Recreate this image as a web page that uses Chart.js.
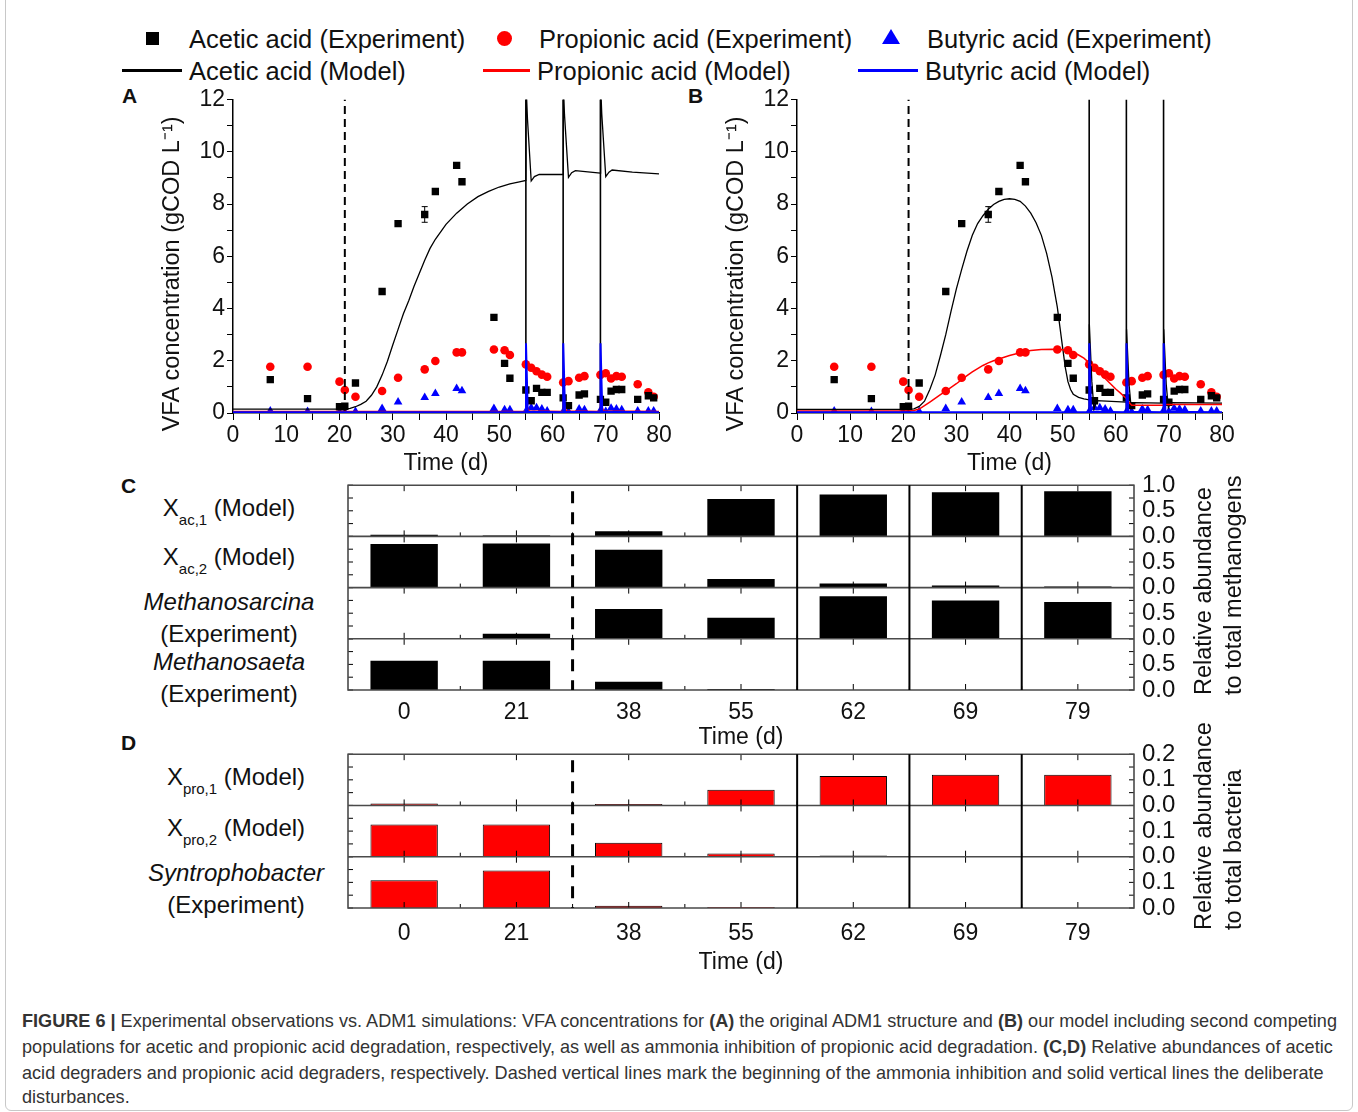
<!DOCTYPE html>
<html>
<head>
<meta charset="utf-8">
<script src="https://cdn.jsdelivr.net/npm/chart.js@4.4.1/dist/chart.umd.min.js"></script>
<style>
body { margin: 0; background: #fff; font-family: 'Liberation Sans', Arial, sans-serif; color: #111; }
#fig { position: relative; width: 1358px; height: 1112px; overflow: hidden; }
#frame { position: absolute; left: 5px; top: -8px; width: 1346px; height: 1117px; border: 1px solid #c8c8c8; border-radius: 6px; }
.abs { position: absolute; white-space: nowrap; }
canvas { position: absolute; }
.legt { font-size: 25.5px; line-height: 30px; }
.letter { font-size: 21px; font-weight: bold; line-height: 24px; }
.rowlab { font-size: 24px; line-height: 28px; width: 200px; text-align: center; }
.sub { font-size: 15px; position: relative; top: 9px; }
.rtitle { font-size: 23.5px; line-height: 30px; transform-origin: 0 0; transform: rotate(-90deg); }
.cap { font-family: 'Liberation Sans Narrow', 'Liberation Sans', Arial, sans-serif; font-size: 18.5px; line-height: 26px; color: #333; transform-origin: 0 50%; }
</style>
</head>
<body>
<div id="fig">
  <div id="frame"></div>

  <!-- legend -->
  <div class="abs" style="left:146px;top:32px;width:13px;height:13px;background:#000"></div>
  <div class="abs legt" style="left:189px;top:24px">Acetic acid (Experiment)</div>
  <div class="abs" style="left:497px;top:31px;width:15px;height:15px;border-radius:50%;background:#ff0000"></div>
  <div class="abs legt" style="left:539px;top:24px">Propionic acid (Experiment)</div>
  <div class="abs" style="left:882px;top:29px;width:18px;height:15px;background:#0000ff;clip-path:polygon(50% 0,100% 100%,0 100%)"></div>
  <div class="abs legt" style="left:927px;top:24px">Butyric acid (Experiment)</div>

  <div class="abs" style="left:122px;top:69px;width:60px;height:3px;background:#000"></div>
  <div class="abs legt" style="left:189px;top:56px">Acetic acid (Model)</div>
  <div class="abs" style="left:483px;top:69px;width:47px;height:3px;background:#ff0000"></div>
  <div class="abs legt" style="left:537px;top:56px">Propionic acid (Model)</div>
  <div class="abs" style="left:858px;top:69px;width:60px;height:3px;background:#0000ff"></div>
  <div class="abs legt" style="left:925px;top:56px">Butyric acid (Model)</div>

  <!-- panel letters -->
  <div class="abs letter" style="left:122px;top:84px">A</div>
  <div class="abs letter" style="left:688px;top:84px">B</div>
  <div class="abs letter" style="left:121px;top:474px">C</div>
  <div class="abs letter" style="left:121px;top:731px">D</div>

  <canvas id="chartA" width="540" height="401" style="left:140px;top:86px"></canvas>
  <canvas id="chartB" width="539" height="401" style="left:704px;top:86px"></canvas>
  <canvas id="chartC" width="850" height="291" style="left:340px;top:464px"></canvas>
  <canvas id="chartD" width="850" height="247" style="left:340px;top:733px"></canvas>

  <!-- row labels C -->
  <div class="abs rowlab" style="left:129px;top:494px">X<span class="sub">ac,1</span> (Model)</div>
  <div class="abs rowlab" style="left:129px;top:543px">X<span class="sub">ac,2</span> (Model)</div>
  <div class="abs rowlab" style="left:129px;top:588px"><i>Methanosarcina</i></div>
  <div class="abs rowlab" style="left:129px;top:620px">(Experiment)</div>
  <div class="abs rowlab" style="left:129px;top:648px"><i>Methanosaeta</i></div>
  <div class="abs rowlab" style="left:129px;top:680px">(Experiment)</div>

  <!-- row labels D -->
  <div class="abs rowlab" style="left:136px;top:763px">X<span class="sub">pro,1</span> (Model)</div>
  <div class="abs rowlab" style="left:136px;top:814px">X<span class="sub">pro,2</span> (Model)</div>
  <div class="abs rowlab" style="left:136px;top:859px"><i>Syntrophobacter</i></div>
  <div class="abs rowlab" style="left:136px;top:891px">(Experiment)</div>

  <div class="abs rtitle" style="left:1188px;top:695px">Relative abundance<br>to total methanogens</div>
  <div class="abs rtitle" style="left:1188px;top:930px">Relative abundance<br>to total bacteria</div>

  <!-- caption -->
  <div class="abs cap" style="left:22px;top:1008px"><b>FIGURE 6 |</b> Experimental observations vs. ADM1 simulations: VFA concentrations for <b>(A)</b> the original ADM1 structure and <b>(B)</b> our model including second competing</div>
  <div class="abs cap" style="left:22px;top:1034px">populations for acetic and propionic acid degradation, respectively, as well as ammonia inhibition of propionic acid degradation. <b>(C,D)</b> Relative abundances of acetic</div>
  <div class="abs cap" style="left:22px;top:1060px">acid degraders and propionic acid degraders, respectively. Dashed vertical lines mark the beginning of the ammonia inhibition and solid vertical lines the deliberate</div>
  <div class="abs cap" style="left:22px;top:1084px">disturbances.</div>
</div>

<script>
// Dias de muestreo (mismos en A y B)
const expDays = [7, 14, 20, 21, 23, 28, 31, 36, 38, 42, 43, 49, 51, 52, 55, 56, 57, 58, 59, 62, 63, 65, 66, 69, 70, 71, 72, 73, 76, 78, 79];
const aceticExp = [1.28, 0.55, 0.24, 0.26, 1.15, 4.65, 7.25, 7.6, 8.48, 9.48, 8.85, 3.66, 1.9, 1.33, 0.88, 0.47, 0.94, 0.79, 0.79, 0.58, 0.28, 0.69, 0.73, 0.52, 0.41, 0.84, 0.9, 0.9, 0.52, 0.66, 0.58];
const propionicExp = [1.77, 1.77, 1.2, 0.88, 0.62, 0.84, 1.35, 1.67, 1.99, 2.32, 2.32, 2.43, 2.4, 2.22, 1.86, 1.73, 1.6, 1.47, 1.39, 1.17, 1.22, 1.35, 1.41, 1.46, 1.52, 1.32, 1.41, 1.39, 1.1, 0.79, 0.62];
const butyricExp = [0.08, 0.06, 0.04, 0.04, 0.06, 0.17, 0.42, 0.59, 0.75, 0.94, 0.85, 0.17, 0.12, 0.12, 0.06, 0.2, 0.2, 0.15, 0.08, 0.05, 0.05, 0.15, 0.12, 0.1, 0.06, 0.18, 0.15, 0.12, 0.08, 0.08, 0.08];
const aceticErrDays = [36];
const aceticErr = [0.3];

const ammoniaDay = 21;
const disturbanceDays = [55, 62, 69];

// Modelo ADM1 original (A)
const tAceticA = [0, 20, 21, 22, 23, 24, 25, 26, 27, 28, 29, 30, 31, 32, 33, 34, 35, 36, 37, 38, 40, 42, 44, 46, 48, 50, 52, 54, 55, 55.03, 55.3, 56, 56.6, 57.5, 62, 62.03, 62.25, 63, 63.6, 64.3, 69, 69.03, 69.25, 70, 70.6, 71.2, 75, 80];
const aceticModelA = [0.15, 0.15, 0.15, 0.18, 0.24, 0.33, 0.45, 0.68, 1.0, 1.45, 1.98, 2.6, 3.2, 3.8, 4.3, 4.85, 5.35, 5.85, 6.3, 6.65, 7.22, 7.65, 8.0, 8.28, 8.48, 8.65, 8.77, 8.86, 8.9, 12.6, 11.25, 8.88, 9.05, 9.13, 9.13, 12.6, 11.42, 9.02, 9.2, 9.28, 9.18, 12.6, 11.45, 9.05, 9.22, 9.3, 9.22, 9.15];
const tPropionicA = [0, 55, 55.03, 55.6, 62, 62.03, 62.6, 69, 69.03, 69.6, 80];
const propionicModelA = [0.06, 0.06, 0.35, 0.08, 0.06, 0.35, 0.08, 0.06, 0.35, 0.08, 0.06];

// Butirico del modelo (igual en A y B)
const tButyric = [0, 55, 55.02, 55.35, 62, 62.02, 62.35, 69, 69.02, 69.35, 80];
const butyricModel = [0.03, 0.03, 2.67, 0.05, 0.03, 2.67, 0.05, 0.03, 2.67, 0.05, 0.03];

// Modelo con segundas poblaciones (B)
const tAceticB = [0, 21, 22, 23, 24, 25, 26, 27, 28, 29, 30, 31, 32, 33, 34, 35, 36, 37, 38, 39, 40, 41, 42, 43, 44, 45, 46, 47, 48, 49, 50, 50.5, 51, 51.5, 52, 53, 54, 55, 55.03, 55.5, 55.9, 56.4, 62, 62.03, 62.5, 62.9, 63.4, 69, 69.03, 69.5, 69.9, 70.4, 80];
const aceticModelB = [0.14, 0.14, 0.16, 0.25, 0.45, 0.9, 1.45, 2.2, 3.0, 3.9, 4.75, 5.5, 6.2, 6.8, 7.25, 7.55, 7.8, 7.98, 8.1, 8.18, 8.2, 8.18, 8.1, 7.92, 7.65, 7.28, 6.8, 6.1, 5.2, 4.05, 2.5, 1.75, 1.2, 0.9, 0.72, 0.6, 0.54, 0.5, 3.4, 1.2, 0.15, 0.47, 0.42, 3.2, 1.1, 0.2, 0.4, 0.38, 3.2, 1.1, 0.2, 0.4, 0.38];
const tPropionicB = [0, 21, 22, 23, 24, 25, 26, 27, 28, 29, 30, 31, 32, 33, 34, 35, 36, 37, 38, 40, 42, 44, 46, 48, 50, 51, 52, 53, 54, 55, 56, 57, 58, 59, 60, 61, 62, 62.5, 63, 69, 69.5, 80];
const propionicModelB = [0.08, 0.08, 0.1, 0.15, 0.28, 0.42, 0.56, 0.7, 0.84, 0.98, 1.12, 1.28, 1.43, 1.57, 1.7, 1.82, 1.92, 2.0, 2.07, 2.2, 2.31, 2.39, 2.43, 2.44, 2.42, 2.39, 2.33, 2.22, 2.1, 1.92, 1.72, 1.52, 1.32, 1.12, 0.92, 0.74, 0.56, 0.4, 0.3, 0.3, 0.33, 0.33];

// Abundancias relativas (C, D)
const sampleDays = ['0', '21', '38', '55', '62', '69', '79'];
const xAc1 = [0.03, 0.02, 0.10, 0.73, 0.82, 0.86, 0.88];
const xAc2 = [0.85, 0.86, 0.74, 0.17, 0.08, 0.04, 0.02];
const methanosarcina = [0, 0.10, 0.58, 0.41, 0.83, 0.75, 0.72];
const methanosaeta = [0.57, 0.57, 0.16, 0.02, 0, 0, 0];
const xPro1 = [0.008, 0.001, 0.006, 0.061, 0.115, 0.12, 0.12];
const xPro2 = [0.126, 0.126, 0.055, 0.013, 0.005, 0.003, 0.001];
const syntrophobacter = [0.108, 0.146, 0.009, 0.004, 0, 0, 0];
const dividerPos = [1.5, 3.5, 4.5, 5.5];
const dividerDashed = [true, false, false, false];

Chart.defaults.font.family = "'Liberation Sans', Arial, sans-serif";
Chart.defaults.color = '#111';

function pts(t, v) {
    return t.map((x, i) => ({x: x, y: v[i]}));
}

const errorBars = {
    id: 'errorBars',
    afterDatasetsDraw(chart) {
        const {ctx, scales: {x, y}} = chart;
        ctx.save();
        ctx.strokeStyle = '#000';
        ctx.lineWidth = 1;
        ctx.beginPath();
        aceticErrDays.forEach((d, i) => {
            const v = aceticExp[expDays.indexOf(d)];
            const px = x.getPixelForValue(d);
            const top = y.getPixelForValue(v + aceticErr[i]);
            const bot = y.getPixelForValue(v - aceticErr[i]);
            ctx.moveTo(px, top); ctx.lineTo(px, bot);
            ctx.moveTo(px - 3, top); ctx.lineTo(px + 3, top);
            ctx.moveTo(px - 3, bot); ctx.lineTo(px + 3, bot);
        });
        ctx.stroke();
        ctx.restore();
    }
};

function lineSet(data, color, width, dash) {
    return {
        data: data, showLine: true, borderColor: color, borderWidth: width,
        borderDash: dash || [], pointRadius: 0, tension: 0
    };
}

function vfaChart(id, acT, acV, prT, prV) {
    const datasets = [
        lineSet(pts(tButyric, butyricModel), '#0000ff', 2),
        lineSet(pts(prT, prV), '#ff0000', 1.5),
        lineSet(pts(acT, acV), '#000', 1.3)
    ];
    disturbanceDays.forEach(d => {
        datasets.push(lineSet([{x: d, y: 0}, {x: d, y: 12}], '#000', 1.6));
    });
    datasets.push(lineSet([{x: ammoniaDay, y: 0}, {x: ammoniaDay, y: 12}], '#000', 2, [8, 5]));
    datasets.push({data: pts(expDays, aceticExp), pointStyle: 'rect', pointRadius: 5.2, backgroundColor: '#000', borderColor: '#000', borderWidth: 0});
    datasets.push({data: pts(expDays, propionicExp), pointStyle: 'circle', pointRadius: 4.3, backgroundColor: '#ff0000', borderColor: '#ff0000', borderWidth: 0});
    datasets.push({data: pts(expDays, butyricExp), pointStyle: 'triangle', pointRadius: 5, backgroundColor: '#0000ff', borderColor: '#0000ff', borderWidth: 0});

    return new Chart(document.getElementById(id), {
        type: 'scatter',
        data: {datasets: datasets},
        plugins: [errorBars],
        options: {
            responsive: false,
            animation: false,
            layout: {padding: {top: 12, right: 21, left: 0, bottom: 0}},
            plugins: {legend: {display: false}, tooltip: {enabled: false}},
            scales: {
                x: {
                    type: 'linear', min: 0, max: 80,
                    ticks: {
                        stepSize: 5, autoSkip: false, maxRotation: 0, padding: 2,
                        font: {size: 23},
                        callback: v => (v % 10 === 0 ? v : '')
                    },
                    grid: {drawOnChartArea: false, tickLength: 7, color: '#000'},
                    border: {color: '#000', width: 1.5},
                    title: {display: true, text: 'Time (d)', font: {size: 23}, padding: {top: 0, bottom: 10}},
                    afterFit: s => { s.height = 74; }
                },
                y: {
                    min: 0, max: 12,
                    ticks: {
                        stepSize: 1, autoSkip: false, padding: 2,
                        font: {size: 23, lineHeight: 1},
                        callback: v => (v % 2 === 0 ? v : '')
                    },
                    grid: {drawOnChartArea: false, tickLength: 6, color: '#000'},
                    border: {color: '#000', width: 1.5},
                    title: {display: true, text: 'VFA concentration (gCOD L\u207B\u00B9)\u2002\u2002\u2002', font: {size: 23.5}, padding: {top: 18, bottom: 0}},
                    afterFit: s => { s.width = 93; }
                }
            }
        }
    });
}

const rowFrame = {
    id: 'rowFrame',
    afterDatasetsDraw(chart) {
        const {ctx, chartArea: a, scales} = chart;
        const xs = scales.x;
        const rows = Object.values(scales).filter(s => s.axis === 'y');
        ctx.save();
        ctx.strokeStyle = '#000';
        ctx.lineWidth = 1;
        ctx.beginPath();
        rows.forEach(s => {
            sampleDays.forEach((_, i) => {
                const px = xs.getPixelForValue(i);
                ctx.moveTo(px, s.top); ctx.lineTo(px, s.top + 6);
                ctx.moveTo(px, s.bottom); ctx.lineTo(px, s.bottom - 6);
                if (i > 0) {
                    const bx = xs.getPixelForValue(i - 0.5);
                    ctx.moveTo(bx, s.bottom); ctx.lineTo(bx, s.bottom - 4);
                }
            });
            s.ticks.forEach(t => {
                const py = s.getPixelForValue(t.value);
                ctx.moveTo(a.left, py); ctx.lineTo(a.left + 5, py);
                ctx.moveTo(a.right, py); ctx.lineTo(a.right - 5, py);
            });
        });
        ctx.stroke();

        ctx.strokeStyle = '#4a4a4a';
        ctx.lineWidth = 1.6;
        ctx.beginPath();
        rows.forEach(s => { ctx.moveTo(a.left, s.bottom); ctx.lineTo(a.right, s.bottom); });
        ctx.rect(a.left, a.top, a.width, a.height);
        ctx.stroke();

        ctx.strokeStyle = '#000';
        dividerPos.forEach((p, i) => {
            const px = xs.getPixelForValue(p);
            ctx.beginPath();
            ctx.setLineDash(dividerDashed[i] ? [12, 9] : []);
            ctx.lineWidth = dividerDashed[i] ? 3 : 2;
            ctx.moveTo(px, a.top + (dividerDashed[i] ? 6 : 0));
            ctx.lineTo(px, a.bottom);
            ctx.stroke();
        });
        ctx.restore();
    }
};

function abundanceChart(id, rows, yMax, fill, edge, xHeight, xPad) {
    const scales = {
        x: {
            type: 'category', offset: true,
            grid: {display: false, drawTicks: false}, border: {display: false},
            ticks: {font: {size: 23}, padding: xPad, maxRotation: 0, autoSkip: false},
            title: {display: true, text: 'Time (d)', font: {size: 23}, padding: {top: 0, bottom: 4}},
            afterFit: s => { s.height = xHeight; }
        }
    };
    const datasets = [];
    rows.forEach((r, i) => {
        const id = 'r' + i;
        scales[id] = {
            type: 'linear', position: 'right', stack: 'rows', stackWeight: 1,
            min: 0, max: yMax,
            grid: {display: false, drawTicks: false}, border: {display: false},
            ticks: {
                stepSize: yMax / 4, padding: 8, autoSkip: false,
                font: {size: 24, lineHeight: 1.1},
                callback: v => {
                    const k = Math.round(v / (yMax / 4));
                    if (k % 2 !== 0) return '';
                    if (i > 0 && k === 4) return '';
                    return v.toFixed(1);
                }
            },
            afterFit: s => { s.width = 56; }
        };
        datasets.push({
            data: r, yAxisID: id, backgroundColor: fill, borderColor: edge,
            borderWidth: edge ? 1 : 0, barPercentage: 0.6, categoryPercentage: 1, grouped: false
        });
    });
    return new Chart(document.getElementById(id), {
        type: 'bar',
        data: {labels: sampleDays, datasets: datasets},
        plugins: [rowFrame],
        options: {
            responsive: false,
            animation: false,
            layout: {padding: {top: 21, left: 8, right: 0, bottom: 0}},
            plugins: {legend: {display: false}, tooltip: {enabled: false}},
            scales: scales
        }
    });
}

vfaChart('chartA', tAceticA, aceticModelA, tPropionicA, propionicModelA);
vfaChart('chartB', tAceticB, aceticModelB, tPropionicB, propionicModelB);
abundanceChart('chartC', [xAc1, xAc2, methanosarcina, methanosaeta], 1, '#000', null, 65, 9);
abundanceChart('chartD', [xPro1, xPro2, syntrophobacter], 0.2, '#ff0000', '#000', 72, 12);

// Ajustar el ancho del pie de figura a la anchura original
const capLines = document.querySelectorAll('.cap');
const k = 1315 / capLines[0].scrollWidth;
capLines.forEach(el => { el.style.transform = 'scaleX(' + k + ')'; });
</script>
</body>
</html>
